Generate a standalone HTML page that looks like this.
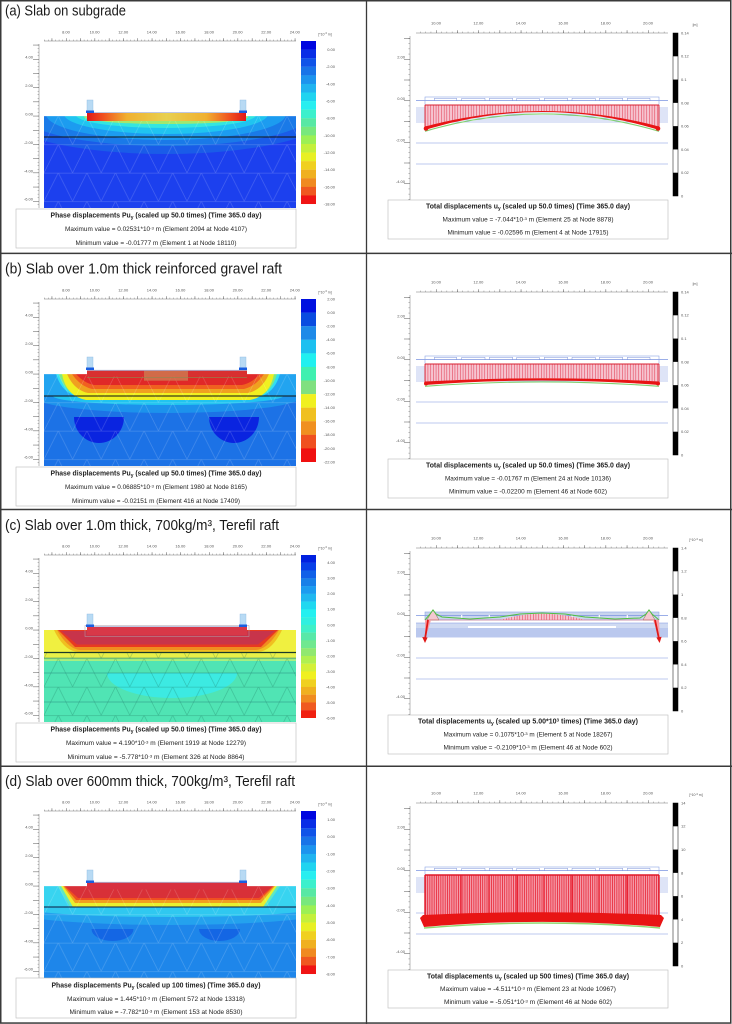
<!DOCTYPE html>
<html><head><meta charset="utf-8"><style>
html,body{margin:0;padding:0;background:#fff;}
body{width:732px;height:1024px;overflow:hidden;}
svg{display:block;}
</style></head><body>
<svg width="732" height="1024" viewBox="0 0 732 1024" xmlns="http://www.w3.org/2000/svg" font-family="'Liberation Sans', sans-serif">
<defs>
<clipPath id="sc"><rect x="44" y="120" width="252" height="92"/></clipPath>
<clipPath id="scb"><rect x="44" y="142" width="252" height="70"/></clipPath>
<pattern id="mW" patternUnits="userSpaceOnUse" x="44" y="120" width="28.6" height="28.4"><path d="M0,0.3H28.6M0,28.4L14.3,0L28.6,28.4" fill="none" stroke="#fff" stroke-opacity=".22" stroke-width=".6"/></pattern>
<pattern id="mG" patternUnits="userSpaceOnUse" x="44" y="120" width="28.6" height="28.4"><path d="M0,0.3H28.6M0,28.4L14.3,0L28.6,28.4" fill="none" stroke="#10604c" stroke-opacity=".35" stroke-width=".6"/></pattern>
<pattern id="pxL" patternUnits="userSpaceOnUse" x="66" y="0" width="3.575" height="300"><rect width=".45" height="300" fill="#777"/></pattern>
<pattern id="PxL" patternUnits="userSpaceOnUse" x="66" y="0" width="14.3" height="300"><rect width=".5" height="300" fill="#555"/></pattern>
<pattern id="pyL" patternUnits="userSpaceOnUse" x="0" y="119.8" width="400" height="3.55"><rect width="400" height=".45" fill="#777"/></pattern>
<pattern id="PyL" patternUnits="userSpaceOnUse" x="0" y="119.8" width="400" height="14.2"><rect width="400" height=".5" fill="#555"/></pattern>
<pattern id="pxR" patternUnits="userSpaceOnUse" x="436" y="0" width="5.3" height="300"><rect width=".45" height="300" fill="#777"/></pattern>
<pattern id="PxR" patternUnits="userSpaceOnUse" x="436" y="0" width="21.2" height="300"><rect width=".5" height="300" fill="#555"/></pattern>
<pattern id="pyR" patternUnits="userSpaceOnUse" x="0" y="105.5" width="800" height="5.1875"><rect width="800" height=".45" fill="#777"/></pattern>
<pattern id="PyR" patternUnits="userSpaceOnUse" x="0" y="105.5" width="800" height="20.75"><rect width="800" height=".5" fill="#555"/></pattern>
<pattern id="hA" patternUnits="userSpaceOnUse" x="425" y="0" width="2.7" height="10"><rect width="2.7" height="10" fill="#f6c4d0"/><rect width=".5" height="10" fill="#e03048"/></pattern>
<pattern id="hD" patternUnits="userSpaceOnUse" x="425" y="0" width="2.2" height="10"><rect width="2.2" height="10" fill="#f49aa8"/><rect width=".8" height="10" fill="#e82838"/></pattern>
<linearGradient id="gA" x1="0" x2="1" y1="0" y2="0"><stop offset="0" stop-color="#e01818"/><stop offset=".1" stop-color="#f05020"/><stop offset=".25" stop-color="#f0b030"/><stop offset=".5" stop-color="#e8d050"/><stop offset=".75" stop-color="#f0b030"/><stop offset=".9" stop-color="#f05020"/><stop offset="1" stop-color="#e01818"/></linearGradient>
</defs>
<rect width="732" height="1024" fill="#fff"/>

<!-- Row titles -->
<g fill="#1a1a1a" font-size="14.5">
<text x="5" y="15.7" textLength="121" lengthAdjust="spacingAndGlyphs">(a) Slab on subgrade</text>
<text x="5" y="273.5" textLength="277" lengthAdjust="spacingAndGlyphs">(b) Slab over 1.0m thick reinforced gravel raft</text>
<text x="5" y="530" textLength="274" lengthAdjust="spacingAndGlyphs">(c) Slab over 1.0m thick, 700kg/m³, Terefil raft</text>
<text x="5" y="786" textLength="290" lengthAdjust="spacingAndGlyphs">(d) Slab over 600mm thick, 700kg/m³, Terefil raft</text>
</g>

<!-- ================= LEFT A ================= -->
<g transform="translate(0,-4)">
<g fill="#555" font-size="4" text-anchor="middle">
<text x="66" y="37.5">8.00</text><text x="94.6" y="37.5">10.00</text><text x="123.2" y="37.5">12.00</text><text x="151.8" y="37.5">14.00</text><text x="180.4" y="37.5">16.00</text><text x="209" y="37.5">18.00</text><text x="237.6" y="37.5">20.00</text><text x="266.2" y="37.5">22.00</text><text x="294.8" y="37.5">24.00</text>
</g>
<g fill="#555" font-size="4" text-anchor="end">
<text x="33" y="62.7">4.00</text><text x="33" y="91.1">2.00</text><text x="33" y="119.5">0.00</text><text x="33" y="147.9">-2.00</text><text x="33" y="176.3">-4.00</text><text x="33" y="204.7">-6.00</text>
</g>
<path d="M44,45H296M39,48V212" stroke="#777" stroke-width=".5" fill="none"/>
<rect x="44" y="43.6" width="252" height="1.4" fill="url(#pxL)"/><rect x="44" y="42.2" width="252" height="2.8" fill="url(#PxL)"/>
<rect x="37.6" y="48" width="1.4" height="164" fill="url(#pyL)"/><rect x="33" y="48" width="6" height="164" fill="url(#PyL)"/>
<g clip-path="url(#sc)">
<rect x="44" y="120" width="252" height="92" fill="#1c40ee"/>
<ellipse cx="166" cy="118" rx="165" ry="40" fill="#1a5ce8"/>
<ellipse cx="166" cy="118" rx="145" ry="32" fill="#1a7ae8"/>
<ellipse cx="166" cy="118" rx="120" ry="26" fill="#1c9cf0"/>
<ellipse cx="166" cy="118" rx="102" ry="20" fill="#20c4f0"/>
<ellipse cx="166" cy="119" rx="90" ry="13" fill="#34e6e0"/>
<ellipse cx="166" cy="121" rx="82" ry="7" fill="#a0e870"/>
<rect x="44" y="120" width="252" height="92" fill="url(#mW)"/>
</g>
<line x1="44" y1="141" x2="296" y2="141" stroke="#111" stroke-width=".9"/>
<rect x="87" y="117" width="159" height="8" fill="url(#gA)"/>
<line x1="87" y1="116.6" x2="246" y2="116.6" stroke="#a8b4d8" stroke-width=".8"/>
<rect x="87" y="104" width="6" height="12" fill="#b8daf4" stroke="#8ab8e0" stroke-width=".4"/><rect x="86" y="114.5" width="8" height="2.5" fill="#1a5ee0"/>
<rect x="240" y="104" width="6" height="12" fill="#b8daf4" stroke="#8ab8e0" stroke-width=".4"/><rect x="239" y="114.5" width="8" height="2.5" fill="#1a5ee0"/>
<g>
<rect x="301" y="45" width="15" height="8.7" fill="#0006e0"/><rect x="301" y="53.58" width="15" height="8.7" fill="#082ee6"/><rect x="301" y="62.16" width="15" height="8.7" fill="#1054e8"/><rect x="301" y="70.74" width="15" height="8.7" fill="#1874e8"/><rect x="301" y="79.32" width="15" height="8.7" fill="#1c94ee"/><rect x="301" y="87.9" width="15" height="8.7" fill="#20b4f0"/><rect x="301" y="96.48" width="15" height="8.7" fill="#20d4f0"/><rect x="301" y="105.06" width="15" height="8.7" fill="#28eef0"/><rect x="301" y="113.64" width="15" height="8.7" fill="#3cf0cc"/><rect x="301" y="122.22" width="15" height="8.7" fill="#58e8a4"/><rect x="301" y="130.8" width="15" height="8.7" fill="#78e87c"/><rect x="301" y="139.38" width="15" height="8.7" fill="#9cf054"/><rect x="301" y="147.96" width="15" height="8.7" fill="#c4f03c"/><rect x="301" y="156.54" width="15" height="8.7" fill="#e8f024"/><rect x="301" y="165.12" width="15" height="8.7" fill="#f0d020"/><rect x="301" y="173.7" width="15" height="8.7" fill="#f0b020"/><rect x="301" y="182.28" width="15" height="8.7" fill="#f08a20"/><rect x="301" y="190.86" width="15" height="8.7" fill="#f05820"/><rect x="301" y="199.44" width="15" height="8.58" fill="#f01414"/>
</g>
<g fill="#555" font-size="4" text-anchor="end">
<text x="335" y="55">0.00</text><text x="335" y="72.1">-2.00</text><text x="335" y="89.3">-4.00</text><text x="335" y="106.5">-6.00</text><text x="335" y="123.6">-8.00</text><text x="335" y="140.8">-10.00</text><text x="335" y="157.9">-12.00</text><text x="335" y="175.1">-14.00</text><text x="335" y="192.3">-16.00</text><text x="335" y="209.4">-18.00</text>
</g>
<text x="325" y="39.3" fill="#555" font-size="3.5" text-anchor="middle">[*10<tspan dy="-1.2" font-size="2.6">-3</tspan><tspan dy="1.2"> m]</tspan></text>
<rect x="16" y="213" width="280" height="39" fill="#fff" stroke="#bbb" stroke-width=".6"/>
<g fill="#222" text-anchor="middle">
<text x="156" y="221.5" font-size="7" font-weight="bold" textLength="211" lengthAdjust="spacingAndGlyphs">Phase displacements Pu<tspan dy="1.3" font-size="5">y</tspan><tspan dy="-1.3"> (scaled up 50.0 times) (Time 365.0 day)</tspan></text>
<text x="156" y="235.1" font-size="6" textLength="182" lengthAdjust="spacingAndGlyphs">Maximum value = 0.02531*10<tspan dy="-1.8" font-size="4">-3</tspan><tspan dy="1.8"> m (Element 2094 at Node 4107)</tspan></text>
<text x="156" y="249.1" font-size="6" textLength="161" lengthAdjust="spacingAndGlyphs">Minimum value = -0.01777 m (Element 1 at Node 18110)</text>
</g>
</g>

<!-- ================= LEFT B ================= -->
<g transform="translate(0,254)">
<g fill="#555" font-size="4" text-anchor="middle">
<text x="66" y="37.5">8.00</text><text x="94.6" y="37.5">10.00</text><text x="123.2" y="37.5">12.00</text><text x="151.8" y="37.5">14.00</text><text x="180.4" y="37.5">16.00</text><text x="209" y="37.5">18.00</text><text x="237.6" y="37.5">20.00</text><text x="266.2" y="37.5">22.00</text><text x="294.8" y="37.5">24.00</text>
</g>
<g fill="#555" font-size="4" text-anchor="end">
<text x="33" y="62.7">4.00</text><text x="33" y="91.1">2.00</text><text x="33" y="119.5">0.00</text><text x="33" y="147.9">-2.00</text><text x="33" y="176.3">-4.00</text><text x="33" y="204.7">-6.00</text>
</g>
<path d="M44,45H296M39,48V212" stroke="#777" stroke-width=".5" fill="none"/>
<rect x="44" y="43.6" width="252" height="1.4" fill="url(#pxL)"/><rect x="44" y="42.2" width="252" height="2.8" fill="url(#PxL)"/>
<rect x="37.6" y="48" width="1.4" height="164" fill="url(#pyL)"/><rect x="33" y="48" width="6" height="164" fill="url(#PyL)"/>
<g clip-path="url(#sc)">
<rect x="44" y="120" width="252" height="92" fill="#1c72e6"/>
<ellipse cx="168" cy="142" rx="135" ry="17" fill="#1c92ec"/>
<ellipse cx="168" cy="142" rx="115" ry="9" fill="#22c4f0"/>
<rect x="44" y="120" width="252" height="22" fill="#22a4f0"/>
<path d="M56,120H280Q274,140 258,143H80Q62,140 56,120Z" fill="#30e0f0"/>
<path d="M59,120H277Q271,140 256,143H82Q65,140 59,120Z" fill="#80e880"/>
<path d="M62,120H274Q270,142 250,146H86Q66,142 62,120Z" fill="#f0f020"/>
<path d="M67,120H269Q262,136 248,139H88Q74,136 67,120Z" fill="#f0a020"/>
<path d="M72,120H264Q256,132 244,135H92Q80,132 72,120Z" fill="#f06020"/>
<path d="M76,120H260Q252,129 242,131H94Q84,129 76,120Z" fill="#e02828"/>
<path d="M74,163H124A25,26 0 0 1 74,163Z" fill="#0a24e0"/>
<path d="M209,163H259A25,26 0 0 1 209,163Z" fill="#0a24e0"/>
<rect x="44" y="120" width="252" height="92" fill="url(#mW)"/>
</g>
<line x1="44" y1="142" x2="296" y2="142" stroke="#111" stroke-width=".9"/>
<rect x="87" y="116.5" width="160" height="6" fill="#d83030"/>
<rect x="144" y="116.7" width="44" height="10" fill="#d07a50" opacity=".8"/>
<line x1="87" y1="123.7" x2="247" y2="123.7" stroke="#8a8a50" stroke-width=".7"/>
<line x1="87" y1="116.3" x2="247" y2="116.3" stroke="#a8b4d8" stroke-width=".8"/>
<rect x="87" y="103" width="6" height="12" fill="#b8daf4" stroke="#8ab8e0" stroke-width=".4"/><rect x="86" y="113.5" width="8" height="2.5" fill="#1a5ee0"/>
<rect x="240" y="103" width="6" height="12" fill="#b8daf4" stroke="#8ab8e0" stroke-width=".4"/><rect x="239" y="113.5" width="8" height="2.5" fill="#1a5ee0"/>
<g>
<rect x="301" y="45" width="15" height="13.7" fill="#0010e0"/><rect x="301" y="58.58" width="15" height="13.7" fill="#0a4ce0"/><rect x="301" y="72.17" width="15" height="13.7" fill="#1e8ae8"/><rect x="301" y="85.75" width="15" height="13.7" fill="#1cc0f0"/><rect x="301" y="99.33" width="15" height="13.7" fill="#20f0f0"/><rect x="301" y="112.92" width="15" height="13.7" fill="#40f0b0"/><rect x="301" y="126.5" width="15" height="13.7" fill="#80e080"/><rect x="301" y="140.08" width="15" height="13.7" fill="#f0f020"/><rect x="301" y="153.67" width="15" height="13.7" fill="#f0c020"/><rect x="301" y="167.25" width="15" height="13.7" fill="#f09020"/><rect x="301" y="180.83" width="15" height="13.7" fill="#f05020"/><rect x="301" y="194.42" width="15" height="13.58" fill="#f01010"/>
</g>
<g fill="#555" font-size="4" text-anchor="end">
<text x="335" y="46.4">2.00</text><text x="335" y="60">0.00</text><text x="335" y="73.6">-2.00</text><text x="335" y="87.2">-4.00</text><text x="335" y="100.7">-6.00</text><text x="335" y="114.3">-8.00</text><text x="335" y="127.9">-10.00</text><text x="335" y="141.5">-12.00</text><text x="335" y="155.1">-14.00</text><text x="335" y="168.7">-16.00</text><text x="335" y="182.2">-18.00</text><text x="335" y="195.8">-20.00</text><text x="335" y="209.4">-22.00</text>
</g>
<text x="325" y="39.3" fill="#555" font-size="3.5" text-anchor="middle">[*10<tspan dy="-1.2" font-size="2.6">-3</tspan><tspan dy="1.2"> m]</tspan></text>
<rect x="16" y="213" width="280" height="39" fill="#fff" stroke="#bbb" stroke-width=".6"/>
<g fill="#222" text-anchor="middle">
<text x="156" y="221.5" font-size="7" font-weight="bold" textLength="211" lengthAdjust="spacingAndGlyphs">Phase displacements Pu<tspan dy="1.3" font-size="5">y</tspan><tspan dy="-1.3"> (scaled up 50.0 times) (Time 365.0 day)</tspan></text>
<text x="156" y="235.1" font-size="6" textLength="182" lengthAdjust="spacingAndGlyphs">Maximum value = 0.06885*10<tspan dy="-1.8" font-size="4">-3</tspan><tspan dy="1.8"> m (Element 1980 at Node 8165)</tspan></text>
<text x="156" y="249.1" font-size="6" textLength="168" lengthAdjust="spacingAndGlyphs">Minimum value = -0.02151 m (Element 416 at Node 17409)</text>
</g>
</g>

<!-- ================= LEFT C ================= -->
<g transform="translate(0,510)">
<g fill="#555" font-size="4" text-anchor="middle">
<text x="66" y="37.5">8.00</text><text x="94.6" y="37.5">10.00</text><text x="123.2" y="37.5">12.00</text><text x="151.8" y="37.5">14.00</text><text x="180.4" y="37.5">16.00</text><text x="209" y="37.5">18.00</text><text x="237.6" y="37.5">20.00</text><text x="266.2" y="37.5">22.00</text><text x="294.8" y="37.5">24.00</text>
</g>
<g fill="#555" font-size="4" text-anchor="end">
<text x="33" y="62.7">4.00</text><text x="33" y="91.1">2.00</text><text x="33" y="119.5">0.00</text><text x="33" y="147.9">-2.00</text><text x="33" y="176.3">-4.00</text><text x="33" y="204.7">-6.00</text>
</g>
<path d="M44,45H296M39,48V212" stroke="#777" stroke-width=".5" fill="none"/>
<rect x="44" y="43.6" width="252" height="1.4" fill="url(#pxL)"/><rect x="44" y="42.2" width="252" height="2.8" fill="url(#PxL)"/>
<rect x="37.6" y="48" width="1.4" height="164" fill="url(#pyL)"/><rect x="33" y="48" width="6" height="164" fill="url(#PyL)"/>
<g clip-path="url(#sc)">
<rect x="44" y="120" width="252" height="92" fill="#50e4b4"/>
<path d="M107,163H237A65,25 0 0 1 107,163Z" fill="#3ceae2"/>
<rect x="44" y="148" width="252" height="3" fill="#a8f080"/>
<rect x="44" y="142" width="252" height="6" fill="#e8f048"/>
<rect x="44" y="120" width="252" height="22" fill="#f0f040"/>
<path d="M54,120H282Q272,141 258,142H78Q64,141 54,120Z" fill="#f0c020"/>
<path d="M57,120H279Q268,139 256,140H80Q68,139 57,120Z" fill="#f08c20"/>
<path d="M58,120H278L261,137H75Z" fill="#e83a20"/>
<path d="M61,121H275L258,134.5H77Z" fill="#c8344a"/>
<rect x="44" y="120" width="252" height="92" fill="url(#mG)" clip-path="url(#scb)"/>
<path d="M44,148H296M44,163H296M44,192H296" stroke="#2a8a80" stroke-width=".6"/>
</g>
<line x1="44" y1="142.5" x2="296" y2="142.5" stroke="#1a3a2a" stroke-width="1.2"/>
<rect x="85" y="115.5" width="164" height="11" fill="none" stroke="#b0a0a8" stroke-width=".5"/>
<rect x="87" y="117" width="160" height="8" fill="#d83848"/>
<line x1="87" y1="116.5" x2="247" y2="116.5" stroke="#a8b4d8" stroke-width=".8"/>
<rect x="87" y="104" width="6" height="12" fill="#b8daf4" stroke="#8ab8e0" stroke-width=".4"/><rect x="86" y="114.5" width="8" height="2.5" fill="#1a5ee0"/>
<rect x="240" y="104" width="6" height="12" fill="#b8daf4" stroke="#8ab8e0" stroke-width=".4"/><rect x="239" y="114.5" width="8" height="2.5" fill="#1a5ee0"/>
<g>
<rect x="301" y="45" width="15" height="7.9" fill="#0020e0"/><rect x="301" y="52.76" width="15" height="7.9" fill="#0840e8"/><rect x="301" y="60.52" width="15" height="7.9" fill="#1060e8"/><rect x="301" y="68.29" width="15" height="7.9" fill="#1880e8"/><rect x="301" y="76.05" width="15" height="7.9" fill="#1c9cf0"/><rect x="301" y="83.81" width="15" height="7.9" fill="#20b8f0"/><rect x="301" y="91.57" width="15" height="7.9" fill="#20d8f0"/><rect x="301" y="99.33" width="15" height="7.9" fill="#24f0f0"/><rect x="301" y="107.1" width="15" height="7.9" fill="#30f0e0"/><rect x="301" y="114.86" width="15" height="7.9" fill="#40f0c8"/><rect x="301" y="122.62" width="15" height="7.9" fill="#58e8a8"/><rect x="301" y="130.38" width="15" height="7.9" fill="#70e890"/><rect x="301" y="138.14" width="15" height="7.9" fill="#90e870"/><rect x="301" y="145.9" width="15" height="7.9" fill="#b0f050"/><rect x="301" y="153.67" width="15" height="7.9" fill="#d4f038"/><rect x="301" y="161.43" width="15" height="7.9" fill="#f0f020"/><rect x="301" y="169.19" width="15" height="7.9" fill="#f0d020"/><rect x="301" y="176.95" width="15" height="7.9" fill="#f0b020"/><rect x="301" y="184.71" width="15" height="7.9" fill="#f08c20"/><rect x="301" y="192.48" width="15" height="7.9" fill="#f05a20"/><rect x="301" y="200.24" width="15" height="7.76" fill="#f02010"/>
</g>
<g fill="#555" font-size="4" text-anchor="end">
<text x="335" y="54.2">4.00</text><text x="335" y="69.7">3.00</text><text x="335" y="85.2">2.00</text><text x="335" y="100.7">1.00</text><text x="335" y="116.3">0.00</text><text x="335" y="131.8">-1.00</text><text x="335" y="147.3">-2.00</text><text x="335" y="162.8">-3.00</text><text x="335" y="178.4">-4.00</text><text x="335" y="193.9">-5.00</text><text x="335" y="209.4">-6.00</text>
</g>
<text x="325" y="39.3" fill="#555" font-size="3.5" text-anchor="middle">[*10<tspan dy="-1.2" font-size="2.6">-3</tspan><tspan dy="1.2"> m]</tspan></text>
<rect x="16" y="213" width="280" height="39" fill="#fff" stroke="#bbb" stroke-width=".6"/>
<g fill="#222" text-anchor="middle">
<text x="156" y="221.5" font-size="7" font-weight="bold" textLength="211" lengthAdjust="spacingAndGlyphs">Phase displacements Pu<tspan dy="1.3" font-size="5">y</tspan><tspan dy="-1.3"> (scaled up 50.0 times) (Time 365.0 day)</tspan></text>
<text x="156" y="235.1" font-size="6" textLength="180" lengthAdjust="spacingAndGlyphs">Maximum value = 4.190*10<tspan dy="-1.8" font-size="4">-3</tspan><tspan dy="1.8"> m (Element 1919 at Node 12279)</tspan></text>
<text x="156" y="249.1" font-size="6" textLength="177" lengthAdjust="spacingAndGlyphs">Minimum value = -5.778*10<tspan dy="-1.8" font-size="4">-3</tspan><tspan dy="1.8"> m (Element 326 at Node 8864)</tspan></text>
</g>
</g>

<!-- ================= LEFT D ================= -->
<g transform="translate(0,766)">
<g fill="#555" font-size="4" text-anchor="middle">
<text x="66" y="37.5">8.00</text><text x="94.6" y="37.5">10.00</text><text x="123.2" y="37.5">12.00</text><text x="151.8" y="37.5">14.00</text><text x="180.4" y="37.5">16.00</text><text x="209" y="37.5">18.00</text><text x="237.6" y="37.5">20.00</text><text x="266.2" y="37.5">22.00</text><text x="294.8" y="37.5">24.00</text>
</g>
<g fill="#555" font-size="4" text-anchor="end">
<text x="33" y="62.7">4.00</text><text x="33" y="91.1">2.00</text><text x="33" y="119.5">0.00</text><text x="33" y="147.9">-2.00</text><text x="33" y="176.3">-4.00</text><text x="33" y="204.7">-6.00</text>
</g>
<path d="M44,45H296M39,48V212" stroke="#777" stroke-width=".5" fill="none"/>
<rect x="44" y="43.6" width="252" height="1.4" fill="url(#pxL)"/><rect x="44" y="42.2" width="252" height="2.8" fill="url(#PxL)"/>
<rect x="37.6" y="48" width="1.4" height="164" fill="url(#pyL)"/><rect x="33" y="48" width="6" height="164" fill="url(#PyL)"/>
<g clip-path="url(#sc)">
<rect x="44" y="120" width="252" height="92" fill="#1e86ea"/>
<ellipse cx="170" cy="141" rx="175" ry="18" fill="#24a2ee"/>
<ellipse cx="170" cy="141" rx="150" ry="10" fill="#30c8f0"/>
<rect x="44" y="120" width="252" height="21" fill="#38d4f0"/>
<path d="M58,120H280L266,141H70Z" fill="#60e8c0"/>
<path d="M61,120H277L263,141H73Z" fill="#e8f030"/>
<path d="M63,120H275L261,137H75Z" fill="#f0a020"/>
<path d="M64,120H274L260,134H76Z" fill="#f05020"/>
<path d="M65,120H273L259,132H78Z" fill="#d83038"/>
<path d="M91.5,163H133.5A21,12 0 0 1 91.5,163Z" fill="#1466e4"/>
<path d="M199,163H240A20.5,12 0 0 1 199,163Z" fill="#1466e4"/>
<rect x="44" y="120" width="252" height="92" fill="url(#mW)"/>
</g>
<line x1="44" y1="141" x2="296" y2="141" stroke="#0a1a40" stroke-width="1"/>
<rect x="87" y="116.5" width="160" height="7" fill="#d83040"/>
<line x1="87" y1="116.3" x2="247" y2="116.3" stroke="#a8b4d8" stroke-width=".8"/>
<rect x="87" y="104" width="6" height="12" fill="#b8daf4" stroke="#8ab8e0" stroke-width=".4"/><rect x="86" y="114.5" width="8" height="2.5" fill="#1a5ee0"/>
<rect x="240" y="104" width="6" height="12" fill="#b8daf4" stroke="#8ab8e0" stroke-width=".4"/><rect x="239" y="114.5" width="8" height="2.5" fill="#1a5ee0"/>
<g>
<rect x="301" y="45" width="15" height="8.7" fill="#0006e0"/><rect x="301" y="53.58" width="15" height="8.7" fill="#082ee6"/><rect x="301" y="62.16" width="15" height="8.7" fill="#1054e8"/><rect x="301" y="70.74" width="15" height="8.7" fill="#1874e8"/><rect x="301" y="79.32" width="15" height="8.7" fill="#1c94ee"/><rect x="301" y="87.9" width="15" height="8.7" fill="#20b4f0"/><rect x="301" y="96.48" width="15" height="8.7" fill="#20d4f0"/><rect x="301" y="105.06" width="15" height="8.7" fill="#28eef0"/><rect x="301" y="113.64" width="15" height="8.7" fill="#3cf0cc"/><rect x="301" y="122.22" width="15" height="8.7" fill="#58e8a4"/><rect x="301" y="130.8" width="15" height="8.7" fill="#78e87c"/><rect x="301" y="139.38" width="15" height="8.7" fill="#9cf054"/><rect x="301" y="147.96" width="15" height="8.7" fill="#c4f03c"/><rect x="301" y="156.54" width="15" height="8.7" fill="#e8f024"/><rect x="301" y="165.12" width="15" height="8.7" fill="#f0d020"/><rect x="301" y="173.7" width="15" height="8.7" fill="#f0b020"/><rect x="301" y="182.28" width="15" height="8.7" fill="#f08a20"/><rect x="301" y="190.86" width="15" height="8.7" fill="#f05820"/><rect x="301" y="199.44" width="15" height="8.58" fill="#f01414"/>
</g>
<g fill="#555" font-size="4" text-anchor="end">
<text x="335" y="55">1.00</text><text x="335" y="72.1">0.00</text><text x="335" y="89.3">-1.00</text><text x="335" y="106.5">-2.00</text><text x="335" y="123.6">-3.00</text><text x="335" y="140.8">-4.00</text><text x="335" y="157.9">-5.00</text><text x="335" y="175.1">-6.00</text><text x="335" y="192.3">-7.00</text><text x="335" y="209.4">-8.00</text>
</g>
<text x="325" y="39.3" fill="#555" font-size="3.5" text-anchor="middle">[*10<tspan dy="-1.2" font-size="2.6">-3</tspan><tspan dy="1.2"> m]</tspan></text>
<rect x="16" y="212" width="280" height="40" fill="#fff" stroke="#bbb" stroke-width=".6"/>
<g fill="#222" text-anchor="middle">
<text x="156" y="221.5" font-size="7" font-weight="bold" textLength="209" lengthAdjust="spacingAndGlyphs">Phase displacements Pu<tspan dy="1.3" font-size="5">y</tspan><tspan dy="-1.3"> (scaled up 100 times) (Time 365.0 day)</tspan></text>
<text x="156" y="235.1" font-size="6" textLength="178" lengthAdjust="spacingAndGlyphs">Maximum value = 1.445*10<tspan dy="-1.8" font-size="4">-3</tspan><tspan dy="1.8"> m (Element 572 at Node 13318)</tspan></text>
<text x="156" y="248.1" font-size="6" textLength="173" lengthAdjust="spacingAndGlyphs">Minimum value = -7.782*10<tspan dy="-1.8" font-size="4">-3</tspan><tspan dy="1.8"> m (Element 153 at Node 8530)</tspan></text>
</g>
</g>

<!-- ================= RIGHT A ================= -->
<g transform="translate(0,-5)">
<g fill="#555" font-size="4" text-anchor="middle">
<text x="436" y="29.5">10.00</text><text x="478.4" y="29.5">12.00</text><text x="520.8" y="29.5">14.00</text><text x="563.2" y="29.5">16.00</text><text x="605.6" y="29.5">18.00</text><text x="648" y="29.5">20.00</text>
</g>
<g fill="#555" font-size="4" text-anchor="end">
<text x="405" y="63.7">2.00</text><text x="405" y="105.2">0.00</text><text x="405" y="146.7">-2.00</text><text x="405" y="188.2">-4.00</text>
</g>
<path d="M416,38H668M410,41V205" stroke="#777" stroke-width=".5" fill="none"/>
<rect x="416" y="36.6" width="252" height="1.4" fill="url(#pxR)"/><rect x="416" y="35.2" width="252" height="2.8" fill="url(#PxR)"/>
<rect x="408.4" y="41" width="1.6" height="164" fill="url(#pyR)"/><rect x="404" y="41" width="6" height="164" fill="url(#PyR)"/>
<rect x="673" y="38" width="5" height="163" fill="#fff" stroke="#000" stroke-width=".5"/>
<rect x="673" y="38" width="5" height="23.3" fill="#000"/><rect x="673" y="84.57" width="5" height="23.3" fill="#000"/><rect x="673" y="131.14" width="5" height="23.3" fill="#000"/><rect x="673" y="177.71" width="5" height="23.3" fill="#000"/>
<g fill="#555" font-size="4">
<text x="681" y="39.4">0.14</text><text x="681" y="62.7">0.12</text><text x="681" y="86">0.1</text><text x="681" y="109.3">0.08</text><text x="681" y="132.5">0.06</text><text x="681" y="155.8">0.04</text><text x="681" y="179.1">0.02</text><text x="681" y="202.4">0</text>
</g>
<text x="695" y="31" fill="#555" font-size="3.5" text-anchor="middle">[m]</text>
<path d="M416,105.6H668" stroke="#7a94e0" stroke-width=".7"/>
<path d="M416,113H668M416,115H668M416,117H668M416,119H668M416,121H668M416,123H668M416,125H668M416,127H668M416,148H668M416,169H668" stroke="#7a94e0" stroke-width=".6"/>
<rect x="425" y="102" width="234" height="8" fill="none" stroke="#8ea4e4" stroke-width=".6"/>
<path d="M434.3,105.6V103.3H456.7V105.6M461.7,105.6V103.3H485V105.6M489.3,105.6V103.3H512.7V105.6M516.7,105.6V103.3H539.3V105.6M544.3,105.6V103.3H567.7V105.6M572,105.6V103.3H595.3V105.6M599.3,105.6V103.3H622.7V105.6M627.3,105.6V103.3H650V105.6" fill="none" stroke="#7a90d8" stroke-width=".5"/>
<path d="M425,110H659V131.5Q542,100.5 425,131.5Z" fill="url(#hA)"/>
<path d="M425,110H659M425,110V132M659,110V132" stroke="#d82030" stroke-width=".9" fill="none"/>
<path d="M425,136.3Q542,101.5 659,136.3" stroke="#80d070" stroke-width="1.1" fill="none"/>
<path d="M425,131.5Q542,100.5 659,131.5L659,135Q542,99 425,135Z" fill="#e81414"/>
<circle cx="426" cy="133.5" r="2.3" fill="#e81414"/><circle cx="658" cy="133.5" r="2.3" fill="#e81414"/>
<rect x="388" y="205" width="280" height="39" fill="#fff" stroke="#bbb" stroke-width=".6"/>
<g fill="#222" text-anchor="middle">
<text x="528" y="213.5" font-size="7" font-weight="bold" textLength="204" lengthAdjust="spacingAndGlyphs">Total displacements u<tspan dy="1.3" font-size="5">y</tspan><tspan dy="-1.3"> (scaled up 50.0 times) (Time 365.0 day)</tspan></text>
<text x="528" y="226.6" font-size="6" textLength="171" lengthAdjust="spacingAndGlyphs">Maximum value = -7.044*10<tspan dy="-1.8" font-size="4">-3</tspan><tspan dy="1.8"> m (Element 25 at Node 8878)</tspan></text>
<text x="528" y="239.6" font-size="6" textLength="161" lengthAdjust="spacingAndGlyphs">Minimum value = -0.02596 m (Element 4 at Node 17915)</text>
</g>
</g>

<!-- ================= RIGHT B ================= -->
<g transform="translate(0,254)">
<g fill="#555" font-size="4" text-anchor="middle">
<text x="436" y="29.5">10.00</text><text x="478.4" y="29.5">12.00</text><text x="520.8" y="29.5">14.00</text><text x="563.2" y="29.5">16.00</text><text x="605.6" y="29.5">18.00</text><text x="648" y="29.5">20.00</text>
</g>
<g fill="#555" font-size="4" text-anchor="end">
<text x="405" y="63.7">2.00</text><text x="405" y="105.2">0.00</text><text x="405" y="146.7">-2.00</text><text x="405" y="188.2">-4.00</text>
</g>
<path d="M416,38H668M410,41V205" stroke="#777" stroke-width=".5" fill="none"/>
<rect x="416" y="36.6" width="252" height="1.4" fill="url(#pxR)"/><rect x="416" y="35.2" width="252" height="2.8" fill="url(#PxR)"/>
<rect x="408.4" y="41" width="1.6" height="164" fill="url(#pyR)"/><rect x="404" y="41" width="6" height="164" fill="url(#PyR)"/>
<rect x="673" y="38" width="5" height="163" fill="#fff" stroke="#000" stroke-width=".5"/>
<rect x="673" y="38" width="5" height="23.3" fill="#000"/><rect x="673" y="84.57" width="5" height="23.3" fill="#000"/><rect x="673" y="131.14" width="5" height="23.3" fill="#000"/><rect x="673" y="177.71" width="5" height="23.3" fill="#000"/>
<g fill="#555" font-size="4">
<text x="681" y="39.4">0.14</text><text x="681" y="62.7">0.12</text><text x="681" y="86">0.1</text><text x="681" y="109.3">0.08</text><text x="681" y="132.5">0.06</text><text x="681" y="155.8">0.04</text><text x="681" y="179.1">0.02</text><text x="681" y="202.4">0</text>
</g>
<text x="695" y="31" fill="#555" font-size="3.5" text-anchor="middle">[m]</text>
<path d="M416,105.6H668" stroke="#7a94e0" stroke-width=".7"/>
<path d="M416,113H668M416,115H668M416,117H668M416,119H668M416,121H668M416,123H668M416,125H668M416,127H668M416,148H668M416,169H668" stroke="#7a94e0" stroke-width=".6"/>
<rect x="425" y="102" width="234" height="8" fill="none" stroke="#8ea4e4" stroke-width=".6"/>
<path d="M434.3,105.6V103.3H456.7V105.6M461.7,105.6V103.3H485V105.6M489.3,105.6V103.3H512.7V105.6M516.7,105.6V103.3H539.3V105.6M544.3,105.6V103.3H567.7V105.6M572,105.6V103.3H595.3V105.6M599.3,105.6V103.3H622.7V105.6M627.3,105.6V103.3H650V105.6" fill="none" stroke="#7a90d8" stroke-width=".5"/>
<path d="M425,110H659V127.5Q542,121 425,127.5Z" fill="url(#hA)"/>
<path d="M425,110H659M425,110V128M659,110V128" stroke="#d82030" stroke-width=".9" fill="none"/>
<path d="M425,132.3Q542,123.5 659,132.3" stroke="#80d070" stroke-width="1.1" fill="none"/>
<path d="M425,127.5Q542,121 659,127.5L659,131Q542,122 425,131Z" fill="#e81414"/>
<circle cx="426" cy="129.5" r="2" fill="#e81414"/><circle cx="658" cy="129.5" r="2" fill="#e81414"/>
<rect x="388" y="205" width="280" height="39" fill="#fff" stroke="#bbb" stroke-width=".6"/>
<g fill="#222" text-anchor="middle">
<text x="528" y="213.5" font-size="7" font-weight="bold" textLength="204" lengthAdjust="spacingAndGlyphs">Total displacements u<tspan dy="1.3" font-size="5">y</tspan><tspan dy="-1.3"> (scaled up 50.0 times) (Time 365.0 day)</tspan></text>
<text x="528" y="226.6" font-size="6" textLength="166" lengthAdjust="spacingAndGlyphs">Maximum value = -0.01767 m (Element 24 at Node 10136)</text>
<text x="528" y="239.6" font-size="6" textLength="158" lengthAdjust="spacingAndGlyphs">Minimum value = -0.02200 m (Element 46 at Node 602)</text>
</g>
</g>

<!-- ================= RIGHT C ================= -->
<g transform="translate(0,510)">
<g fill="#555" font-size="4" text-anchor="middle">
<text x="436" y="29.5">10.00</text><text x="478.4" y="29.5">12.00</text><text x="520.8" y="29.5">14.00</text><text x="563.2" y="29.5">16.00</text><text x="605.6" y="29.5">18.00</text><text x="648" y="29.5">20.00</text>
</g>
<g fill="#555" font-size="4" text-anchor="end">
<text x="405" y="63.7">2.00</text><text x="405" y="105.2">0.00</text><text x="405" y="146.7">-2.00</text><text x="405" y="188.2">-4.00</text>
</g>
<path d="M416,38H668M410,41V205" stroke="#777" stroke-width=".5" fill="none"/>
<rect x="416" y="36.6" width="252" height="1.4" fill="url(#pxR)"/><rect x="416" y="35.2" width="252" height="2.8" fill="url(#PxR)"/>
<rect x="408.4" y="41" width="1.6" height="164" fill="url(#pyR)"/><rect x="404" y="41" width="6" height="164" fill="url(#PyR)"/>
<rect x="673" y="38" width="5" height="163" fill="#fff" stroke="#000" stroke-width=".5"/>
<rect x="673" y="38" width="5" height="23.3" fill="#000"/><rect x="673" y="84.57" width="5" height="23.3" fill="#000"/><rect x="673" y="131.14" width="5" height="23.3" fill="#000"/><rect x="673" y="177.71" width="5" height="23.3" fill="#000"/>
<g fill="#555" font-size="4">
<text x="681" y="39.4">1.4</text><text x="681" y="62.7">1.2</text><text x="681" y="86">1</text><text x="681" y="109.3">0.8</text><text x="681" y="132.5">0.6</text><text x="681" y="155.8">0.4</text><text x="681" y="179.1">0.2</text><text x="681" y="202.4">0</text>
</g>
<text x="696" y="31" fill="#555" font-size="3.5" text-anchor="middle">[*10<tspan dy="-1.2" font-size="2.6">-3</tspan><tspan dy="1.2"> m]</tspan></text>
<rect x="425" y="102" width="234" height="8" fill="#c8d4ee"/>
<rect x="416" y="113" width="252" height="14" fill="#cfdaf2"/>
<rect x="468" y="116" width="148" height="2" fill="#fff"/>
<path d="M416,105.6H668" stroke="#7a94e0" stroke-width=".7"/>
<path d="M416,113H668M416,119H668M416,121H668M416,123H668M416,125H668M416,127H668M416,148H668M416,169H668" stroke="#7a94e0" stroke-width=".6"/>
<rect x="425" y="102" width="234" height="8" fill="none" stroke="#8ea4e4" stroke-width=".6"/>
<path d="M461.7,105V108M489.3,105V108M572,105V108M599.3,105V108M627.3,105V108" stroke="#fff" stroke-width="1.2"/>
<path d="M500,110Q542,97.5 585,110Z" fill="url(#hA)"/>
<path d="M427,110L433,99.5L439,110Z" fill="#f4c8d0" stroke="#8a7040" stroke-width=".5"/>
<path d="M643,110L649,99.5L655,110Z" fill="#f4c8d0" stroke="#8a7040" stroke-width=".5"/>
<path d="M425,110L430,104L433,100L436,104L442,107L470,109L500,107L520,104L542,103L565,104L585,107L615,109L640,108L646,104L649,100L652,104L659,110" fill="none" stroke="#50c040" stroke-width="1"/>
<path d="M425,110H659" stroke="#e06070" stroke-width=".6"/>
<path d="M425,110L431,110L425,130Z" fill="#f4a0a8"/>
<path d="M653,110L659,110L660,130Z" fill="#f4a0a8"/>
<path d="M428,110L425,129M655,110L659,129" stroke="#e01818" stroke-width="1.8" fill="none"/>
<path d="M422.2,127L425,133L427.6,127.5Z" fill="#e01818"/>
<path d="M656.4,127.5L659.6,133L661.6,126.8Z" fill="#e01818"/>
<rect x="388" y="205" width="280" height="39" fill="#fff" stroke="#bbb" stroke-width=".6"/>
<g fill="#222" text-anchor="middle">
<text x="528" y="213.5" font-size="7" font-weight="bold" textLength="220" lengthAdjust="spacingAndGlyphs">Total displacements u<tspan dy="1.3" font-size="5">y</tspan><tspan dy="-1.3"> (scaled up 5.00*10</tspan><tspan dy="-2" font-size="4.5">3</tspan><tspan dy="2"> times) (Time 365.0 day)</tspan></text>
<text x="528" y="226.6" font-size="6" textLength="169" lengthAdjust="spacingAndGlyphs">Maximum value = 0.1075*10<tspan dy="-1.8" font-size="4">-3</tspan><tspan dy="1.8"> m (Element 5 at Node 18267)</tspan></text>
<text x="528" y="239.6" font-size="6" textLength="169" lengthAdjust="spacingAndGlyphs">Minimum value = -0.2109*10<tspan dy="-1.8" font-size="4">-3</tspan><tspan dy="1.8"> m (Element 46 at Node 602)</tspan></text>
</g>
</g>

<!-- ================= RIGHT D ================= -->
<g transform="translate(0,765)">
<g fill="#555" font-size="4" text-anchor="middle">
<text x="436" y="29.5">10.00</text><text x="478.4" y="29.5">12.00</text><text x="520.8" y="29.5">14.00</text><text x="563.2" y="29.5">16.00</text><text x="605.6" y="29.5">18.00</text><text x="648" y="29.5">20.00</text>
</g>
<g fill="#555" font-size="4" text-anchor="end">
<text x="405" y="63.7">2.00</text><text x="405" y="105.2">0.00</text><text x="405" y="146.7">-2.00</text><text x="405" y="188.2">-4.00</text>
</g>
<path d="M416,38H668M410,41V205" stroke="#777" stroke-width=".5" fill="none"/>
<rect x="416" y="36.6" width="252" height="1.4" fill="url(#pxR)"/><rect x="416" y="35.2" width="252" height="2.8" fill="url(#PxR)"/>
<rect x="408.4" y="41" width="1.6" height="164" fill="url(#pyR)"/><rect x="404" y="41" width="6" height="164" fill="url(#PyR)"/>
<rect x="673" y="38" width="5" height="163" fill="#fff" stroke="#000" stroke-width=".5"/>
<rect x="673" y="38" width="5" height="23.3" fill="#000"/><rect x="673" y="84.57" width="5" height="23.3" fill="#000"/><rect x="673" y="131.14" width="5" height="23.3" fill="#000"/><rect x="673" y="177.71" width="5" height="23.3" fill="#000"/>
<g fill="#555" font-size="4">
<text x="681" y="39.4">14</text><text x="681" y="62.7">12</text><text x="681" y="86">10</text><text x="681" y="109.3">8</text><text x="681" y="132.5">6</text><text x="681" y="155.8">4</text><text x="681" y="179.1">2</text><text x="681" y="202.4">0</text>
</g>
<text x="696" y="31" fill="#555" font-size="3.5" text-anchor="middle">[*10<tspan dy="-1.2" font-size="2.6">-3</tspan><tspan dy="1.2"> m]</tspan></text>
<path d="M416,105.6H668" stroke="#7a94e0" stroke-width=".7"/>
<path d="M416,113H668M416,115H668M416,117H668M416,119H668M416,121H668M416,123H668M416,125H668M416,127H668M416,148H668M416,169H668" stroke="#7a94e0" stroke-width=".6"/>
<rect x="425" y="102" width="234" height="8" fill="none" stroke="#8ea4e4" stroke-width=".6"/>
<path d="M434.3,105.6V103.3H456.7V105.6M461.7,105.6V103.3H485V105.6M489.3,105.6V103.3H512.7V105.6M516.7,105.6V103.3H539.3V105.6M544.3,105.6V103.3H567.7V105.6M572,105.6V103.3H595.3V105.6M599.3,105.6V103.3H622.7V105.6M627.3,105.6V103.3H650V105.6" fill="none" stroke="#7a90d8" stroke-width=".5"/>
<path d="M425,110H659V151Q542,144.4 425,151Z" fill="url(#hD)"/>
<path d="M461,110V150M489,110V149M517,110V148M544,110V147.5M572,110V148M599,110V149M627,110V150" stroke="#e82030" stroke-width="1.3"/>
<path d="M425,110H659M425,110V151M659,110V151" stroke="#e01828" stroke-width="1.4" fill="none"/>
<path d="M424,163Q542,153 660,163" stroke="#90d870" stroke-width="1.4" fill="none"/>
<path d="M423,150Q542,144.4 661,150L664,153L660,162Q542,151.7 424,162L420,153Z" fill="#e81414"/>
<rect x="388" y="205" width="280" height="38" fill="#fff" stroke="#bbb" stroke-width=".6"/>
<g fill="#222" text-anchor="middle">
<text x="528" y="213.5" font-size="7" font-weight="bold" textLength="202" lengthAdjust="spacingAndGlyphs">Total displacements u<tspan dy="1.3" font-size="5">y</tspan><tspan dy="-1.3"> (scaled up 500 times) (Time 365.0 day)</tspan></text>
<text x="528" y="226.1" font-size="6" textLength="176" lengthAdjust="spacingAndGlyphs">Maximum value = -4.511*10<tspan dy="-1.8" font-size="4">-3</tspan><tspan dy="1.8"> m (Element 23 at Node 10967)</tspan></text>
<text x="528" y="239.1" font-size="6" textLength="168" lengthAdjust="spacingAndGlyphs">Minimum value = -5.051*10<tspan dy="-1.8" font-size="4">-3</tspan><tspan dy="1.8"> m (Element 46 at Node 602)</tspan></text>
</g>
</g>

<!-- Frame lines -->
<g stroke="#3a3a3a" fill="none">
<rect x="0.75" y="0.75" width="730" height="1022.3" stroke-width="1.5"/>
<line x1="366.5" y1="0" x2="366.5" y2="1024" stroke-width="1.3"/>
<line x1="0" y1="253.4" x2="732" y2="253.4" stroke-width="1.5"/>
<line x1="0" y1="509.5" x2="732" y2="509.5" stroke-width="1.5"/>
<line x1="0" y1="766.3" x2="732" y2="766.3" stroke-width="1.5"/>
</g>
</svg>
</body></html>
